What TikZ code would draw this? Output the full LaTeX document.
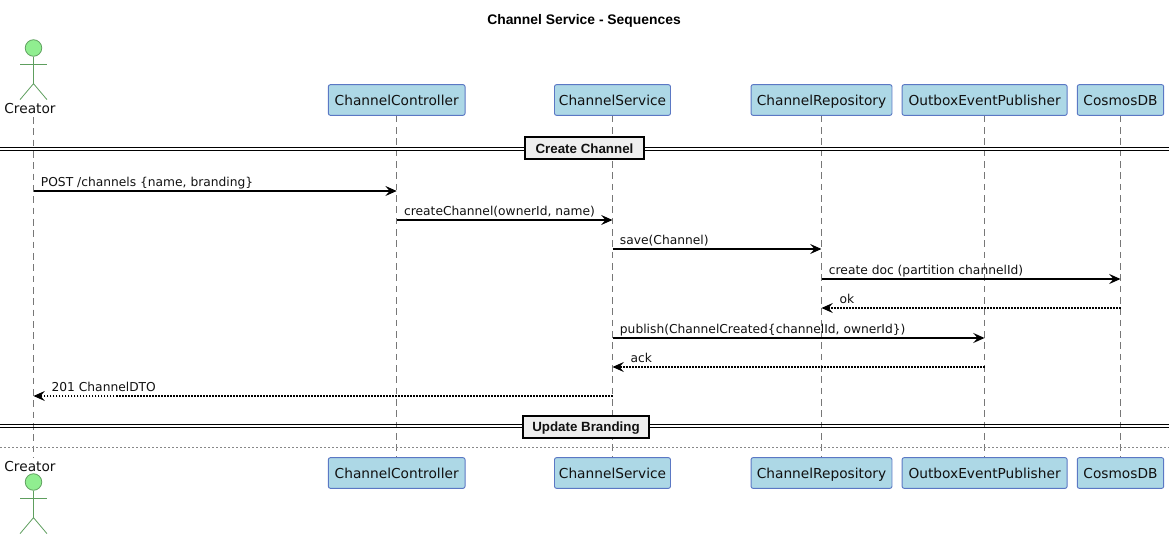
\documentclass[tikz,border=0pt]{standalone}
\usepackage{fontspec}
\setmainfont{DejaVu Sans}
\newfontfamily\titlefont{Liberation Sans}
\usetikzlibrary{arrows.meta,calc}
\definecolor{ink}{HTML}{111111}
\definecolor{lifeline}{HTML}{777777}
\definecolor{partfill}{HTML}{ADD8E6}
\definecolor{partborder}{HTML}{5B78C4}
\definecolor{actorfill}{HTML}{90EE90}
\definecolor{actorline}{HTML}{5E9E5E}
\definecolor{dividerfill}{HTML}{EEEEEE}
\definecolor{gapline}{HTML}{888888}

\begin{document}
\begin{tikzpicture}[
  x=0.75pt, y=-0.75pt,
  font=\fontsize{10.3pt}{12pt}\selectfont,
  >={Stealth[length=8.5pt, width=7.5pt, inset=3.2pt]},
  part/.style={draw=partborder, fill=partfill, rounded corners=1.5pt, line width=0.7pt, minimum height=23pt, inner sep=0pt, text=ink, text height=7.6pt, text depth=0pt},
  actorlabel/.style={inner sep=0pt, text=ink, anchor=center},
  stick/.style={draw=actorline, line width=0.6pt},
  head/.style={stick, fill=actorfill, circle, minimum size=12.4pt, inner sep=0pt},
  life/.style={draw=lifeline, line width=0.6pt, dash pattern=on 5pt off 3.5pt},
  call/.style={->, draw=black, line width=1.15pt},
  back/.style={->, draw=black, line width=1.15pt, dash pattern=on 1pt off 1.25pt},
  msg/.style={font=\fontsize{9.2pt}{11pt}\selectfont, text=ink, inner sep=0pt, anchor=base west},
  rail/.style={draw=black, line width=0.8pt},
  divider/.style={draw=black, fill=dividerfill, line width=1.5pt, inner sep=0pt, minimum height=16.5pt, text height=7pt, text depth=0pt, font=\fontsize{10pt}{12pt}\selectfont\titlefont\bfseries, text=ink}
]
\useasboundingbox (0,0) rectangle (1174,538);

\node[font=\fontsize{10.4pt}{12pt}\selectfont\titlefont\bfseries, inner sep=0pt] (title) at (584,21) {Channel Service - Sequences};

% participants, top row
\node[part, minimum width=102.5pt] (ctrlTop) at (396.7,100) {ChannelController};
\node[part, minimum width=87pt] (svcTop) at (612.5,100) {ChannelService};
\node[part, minimum width=105.7pt] (repoTop) at (821.5,100) {ChannelRepository};
\node[part, minimum width=123.75pt] (pubTop) at (984.6,100) {OutboxEventPublisher};
\node[part, minimum width=64.8pt] (dbTop) at (1120.5,100) {CosmosDB};
% participants, bottom row
\node[part, minimum width=102.5pt] (ctrlBot) at (396.7,473) {ChannelController};
\node[part, minimum width=87pt] (svcBot) at (612.5,473) {ChannelService};
\node[part, minimum width=105.7pt] (repoBot) at (821.5,473) {ChannelRepository};
\node[part, minimum width=123.75pt] (pubBot) at (984.6,473) {OutboxEventPublisher};
\node[part, minimum width=64.8pt] (dbBot) at (1120.5,473) {CosmosDB};

% actor, top
\node[head] (headTop) at (33.5,48) {};
\coordinate (hipTop) at ($(headTop.south)+(0,27)$);
\coordinate (armsTop) at ($(headTop.south)+(0,8)$);
\draw[stick] (headTop.south) -- (hipTop);
\draw[stick] ($(armsTop)+(-13.5,0)$) -- ($(armsTop)+(13.5,0)$);
\draw[stick] ($(hipTop)+(-13.5,16)$) -- (hipTop) -- ($(hipTop)+(13.5,16)$);
\node[actorlabel] (creatorTop) at (30,109) {Creator};
% actor, bottom
\node[head] (headBot) at (33.5,482) {};
\coordinate (hipBot) at ($(headBot.south)+(0,27)$);
\coordinate (armsBot) at ($(headBot.south)+(0,8)$);
\draw[stick] (headBot.south) -- (hipBot);
\draw[stick] ($(armsBot)+(-13.5,0)$) -- ($(armsBot)+(13.5,0)$);
\draw[stick] ($(hipBot)+(-13.5,16)$) -- (hipBot) -- ($(hipBot)+(13.5,16)$);
\node[actorlabel] (creatorBot) at (30,466) {Creator};

% lifelines
\coordinate (lineTop) at (33.5,117);
\coordinate (lineBot) at (33.5,458);
\draw[life] (lineTop) -- (lineBot);
\draw[life] (ctrlTop.south) -- (ctrlBot.north);
\draw[life] (svcTop.south) -- (svcBot.north);
\draw[life] (repoTop.south) -- (repoBot.north);
\draw[life] (pubTop.south) -- (pubBot.north);
\draw[life] (dbTop.south) -- (dbBot.north);

% Create Channel
\coordinate (railA) at (0,147.5);
\coordinate (railB) at (1169,147.5);
\coordinate (railC) at (0,150.5);
\coordinate (railD) at (1169,150.5);
\draw[rail] (railA) -- (railB);
\draw[rail] (railC) -- (railD);
\node[divider, minimum width=89pt] (create) at (584.5,148.5) {Create Channel};

\coordinate (m1) at (0,191);
\coordinate (m2) at (0,220);
\coordinate (m3) at (0,249);
\coordinate (m4) at (0,279);
\coordinate (m5) at (0,308);
\coordinate (m6) at (0,338);
\coordinate (m7) at (0,367);
\coordinate (m8) at (0,396);

\draw[call] (lineTop|-m1) -- node[msg, at start, xshift=5pt, yshift=3.6pt] {POST /channels \{name, branding\}} (ctrlTop|-m1);
\draw[call] (ctrlTop|-m2) -- node[msg, at start, xshift=5pt, yshift=3.6pt] {createChannel(ownerId, name)} (svcTop|-m2);
\draw[call] (svcTop|-m3) -- node[msg, at start, xshift=5pt, yshift=3.6pt] {save(Channel)} (repoTop|-m3);
\draw[call] (repoTop|-m4) -- node[msg, at start, xshift=5pt, yshift=3.6pt] {create doc (partition channelId)} (dbTop|-m4);
\draw[back] (dbTop|-m5) -- node[msg, at end, xshift=13pt, yshift=3.6pt] {ok} (repoTop|-m5);
\draw[call] (svcTop|-m6) -- node[msg, at start, xshift=5pt, yshift=3.6pt] {publish(ChannelCreated\{channelId, ownerId\})} (pubTop|-m6);
\draw[back] (pubTop|-m7) -- node[msg, at end, xshift=13pt, yshift=3.6pt] {ack} (svcTop|-m7);
\draw[back] (svcTop|-m8) -- node[msg, at end, xshift=13pt, yshift=3.6pt] {201 ChannelDTO} (lineTop|-m8);

% Update Branding
\coordinate (railE) at (0,424.5);
\coordinate (railF) at (1169,424.5);
\coordinate (railG) at (0,427.5);
\coordinate (railH) at (1169,427.5);
\draw[rail] (railE) -- (railF);
\draw[rail] (railG) -- (railH);
\node[divider, minimum width=95pt] (update) at (586,426.5) {Update Branding};

\coordinate (gapA) at (0,447.5);
\coordinate (gapB) at (1169,447.5);
\draw[draw=gapline, line width=0.5pt, dash pattern=on 1.5pt off 1.5pt] (gapA) -- (gapB);
\end{tikzpicture}
\end{document}
